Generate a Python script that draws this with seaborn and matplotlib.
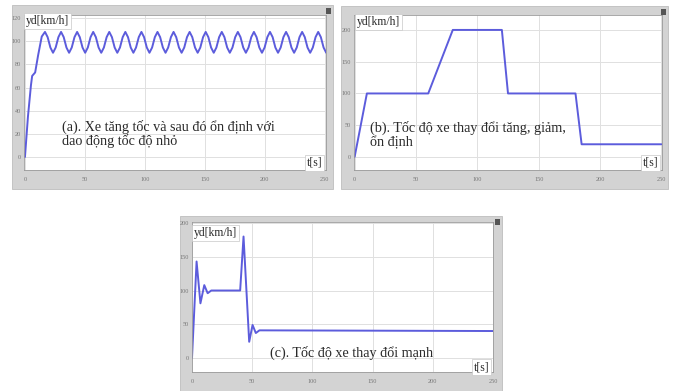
import pandas as pd
import matplotlib.pyplot as plt
import seaborn as sns
from matplotlib.patches import Rectangle

# === DATA ===
# (a) accelerate, then settle with small speed oscillation
t_a = [0, 2.5, 5, 6, 8.5, 11, 14,
       16.7, 18.9, 21.2, 23.4, 25.6, 27.9,
       30.1, 32.3, 34.6, 36.8, 39.0, 41.3,
       43.5, 45.7, 48.0, 50.2, 52.4, 54.7,
       56.9, 59.1, 61.4, 63.6, 65.8, 68.1,
       70.3, 72.5, 74.8, 77.0, 79.2, 81.5,
       83.7, 85.9, 88.2, 90.4, 92.6, 94.9,
       97.1, 99.3, 101.6, 103.8, 106.0, 108.3,
       110.5, 112.7, 115.0, 117.2, 119.4, 121.7,
       123.9, 126.1, 128.4, 130.6, 132.8, 135.1,
       137.3, 139.5, 141.8, 144.0, 146.2, 148.5,
       150.7, 152.9, 155.2, 157.4, 159.6, 161.9,
       164.1, 166.3, 168.6, 170.8, 173.0, 175.3,
       177.5, 179.7, 182.0, 184.2, 186.4, 188.7,
       190.9, 193.1, 195.4, 197.6, 199.8, 202.1,
       204.3, 206.5, 208.8, 211.0, 213.2, 215.5,
       217.7, 219.9, 222.2, 224.4, 226.6, 228.9,
       231.1, 233.3, 235.6, 237.8, 240.0, 242.3,
       244.5, 246.7, 249.0, 251.2]
v_a = [0, 35, 62, 70, 73, 88, 104,
       108, 103.5, 94.5, 90, 94.5, 103.5,
       108, 103.5, 94.5, 90, 94.5, 103.5,
       108, 103.5, 94.5, 90, 94.5, 103.5,
       108, 103.5, 94.5, 90, 94.5, 103.5,
       108, 103.5, 94.5, 90, 94.5, 103.5,
       108, 103.5, 94.5, 90, 94.5, 103.5,
       108, 103.5, 94.5, 90, 94.5, 103.5,
       108, 103.5, 94.5, 90, 94.5, 103.5,
       108, 103.5, 94.5, 90, 94.5, 103.5,
       108, 103.5, 94.5, 90, 94.5, 103.5,
       108, 103.5, 94.5, 90, 94.5, 103.5,
       108, 103.5, 94.5, 90, 94.5, 103.5,
       108, 103.5, 94.5, 90, 94.5, 103.5,
       108, 103.5, 94.5, 90, 94.5, 103.5,
       108, 103.5, 94.5, 90, 94.5, 103.5,
       108, 103.5, 94.5, 90, 94.5, 103.5,
       108, 103.5, 94.5, 90, 94.5, 103.5,
       108, 103.5, 94.5, 90]

# (b) speed steps up, down, then steady
t_b = [0, 10, 60, 80, 120, 125, 180, 185, 250]
v_b = [0, 100, 100, 200, 200, 100, 100, 20, 20]

# (c) strong speed changes
t_c = [0, 3.8, 7.0, 10.2, 13.0, 16, 40, 42.8, 47.5, 50.3, 53, 56, 250]
v_c = [0, 143, 81, 108, 96, 100, 100, 180, 24, 49, 37, 41, 40]

x_ticks = [0, 50, 100, 150, 200, 250]
y_ticks_a = [0, 20, 40, 60, 80, 100, 120]
y_ticks_bc = [0, 50, 100, 150, 200]

caption_a = "(a). Xe tăng tốc và sau đó ổn định với\ndao động tốc độ nhỏ"
caption_b = "(b). Tốc độ xe thay đổi tăng, giảm,\nổn định"
caption_c = "(c). Tốc độ xe thay đổi mạnh"

# === FIGURE ===
W, H = 673, 391
sns.set_style("white")
plt.rcParams['font.family'] = ['Liberation Serif', 'DejaVu Serif']
fig = plt.figure(figsize=(W / 100, H / 100), dpi=100)

LINE = "#5c5cdc"
FRAME = "#d3d3d3"
GRIDC = "#e0e0e0"


def fx(x):
    return x / W


def fy(y):
    return 1 - y / H


def panel(frame, box, t, v, xlim, ylim, yticks, caption, cap_xy, tlabel_xy, ylabel_xy):
    # gray scope frame
    x0, y0, x1, y1 = frame
    fig.patches.append(Rectangle((fx(x0), fy(y1)), fx(x1 - x0), (y1 - y0) / H,
                                 transform=fig.transFigure, facecolor=FRAME,
                                 edgecolor="#bdbdbd", linewidth=0.6, zorder=0))
    # tiny dark icon at the top right corner
    fig.patches.append(Rectangle((fx(x1 - 7), fy(y0 + 9)), fx(5), 6 / H,
                                 transform=fig.transFigure, facecolor="#555555",
                                 edgecolor="none", zorder=1))
    l, tp, r, b = box
    ax = fig.add_axes([fx(l), fy(b), fx(r - l), (b - tp) / H])
    ax.set_zorder(2)
    ax.set_facecolor("white")
    df = pd.DataFrame({"t": t, "v": v})
    sns.lineplot(data=df, x="t", y="v", ax=ax, color=LINE, linewidth=1.4,
                 estimator=None, sort=False)
    ax.set_xlim(*xlim)
    ax.set_ylim(*ylim)
    ax.set_xticks(x_ticks)
    ax.set_yticks(yticks)
    ax.grid(True, color=GRIDC, linewidth=0.7)
    ax.set_axisbelow(True)
    ax.tick_params(axis="both", labelsize=4.5, colors="#777777", length=0)
    ax.tick_params(axis="x", pad=5)
    ax.tick_params(axis="y", pad=2)
    ax.set_xlabel("")
    ax.set_ylabel("")
    for s in ax.spines.values():
        s.set_color("#9a9a9a")
        s.set_linewidth(0.6)
    # captions and axis names
    fig.text(fx(cap_xy[0]), fy(cap_xy[1]), caption, ha="left", va="center",
             fontsize=10.2, color="#2a2a2a", linespacing=1.05, zorder=5)
    fig.text(fx(tlabel_xy[0]), fy(tlabel_xy[1]), "t[s]", ha="right", va="center",
             fontsize=8.5, color="#2a2a2a", zorder=5,
             bbox=dict(boxstyle="square,pad=0.15", facecolor="white",
                       edgecolor="#c8c8c8", linewidth=0.5))
    fig.text(fx(ylabel_xy[0]), fy(ylabel_xy[1]), "yd[km/h]", ha="left", va="center",
             fontsize=8.5, color="#2a2a2a", zorder=5,
             bbox=dict(boxstyle="square,pad=0.15", facecolor="white",
                       edgecolor="#c8c8c8", linewidth=0.5))
    return ax


panel((12, 5, 333, 189), (24, 15, 326, 170), t_a, v_a,
      (-0.8, 251), (-11.2, 122.6), y_ticks_a, caption_a,
      (62, 134), (322, 163), (26, 21))
panel((341, 6, 668, 189), (354, 15, 662, 170), t_b, v_b,
      (-0.5, 250.5), (-20.5, 223.5), y_ticks_bc, caption_b,
      (370, 135), (658, 163), (357, 22))
panel((180, 216, 502, 391), (192, 222, 493, 372), t_c, v_c,
      (0, 250), (-20.7, 201.5), y_ticks_bc, caption_c,
      (270, 353), (489, 367), (194, 233))

fig.savefig("out.png", dpi=100)
